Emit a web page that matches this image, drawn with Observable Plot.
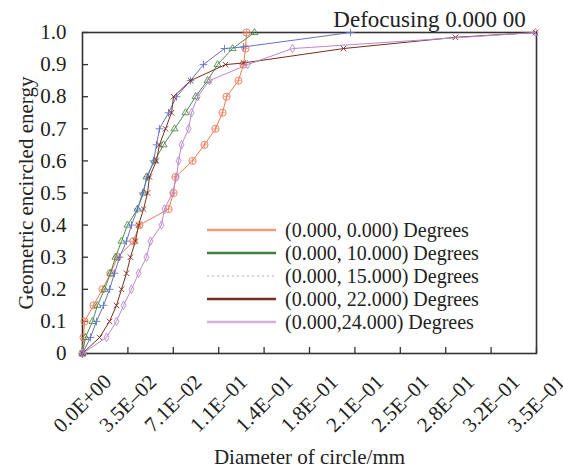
<!DOCTYPE html>
<html><head><meta charset="utf-8">
<script src="https://cdn.jsdelivr.net/npm/d3@7"></script>
<script src="https://cdn.jsdelivr.net/npm/@observablehq/plot@0.6"></script>
<style>
body{margin:0;background:#fff}
</style>
</head><body><div id="chart"></div>
<script>
// ---- data (diameter in mm, geometric encircled energy) ----
const seriesNames = ["(0.000, 0.000) Degrees", "(0.000, 10.000) Degrees", "(0.000, 15.000) Degrees", "(0.000, 22.000) Degrees", "(0.000,24.000) Degrees"];
const seriesColors = ["#f07a55", "#4e8c4e", "#6474c4", "#7a2e1e", "#bb88cc"];
const legendColors = ["#f29a7c", "#3f7f3f", "#c8c8ec", "#7a2e1e", "#d4b0dc"];
const seriesSymbols = ["circle", "triangle", "plus", "times", "diamond"];

const energy0 = [0, 0.05, 0.1, 0.15, 0.2, 0.25, 0.3, 0.35, 0.4, 0.45, 0.5, 0.55, 0.6, 0.65, 0.7, 0.75, 0.8, 0.85, 0.9, 0.95, 1.0];
const diam0   = [0, 0.0008, 0.0016, 0.0086, 0.0156, 0.0218, 0.0273, 0.0398, 0.0444, 0.0671, 0.0710, 0.0725, 0.0858, 0.0951, 0.1037, 0.1092, 0.1123, 0.1216, 0.1255, 0.1271, 0.1279];

const energy10 = [0, 0.05, 0.1, 0.15, 0.2, 0.25, 0.3, 0.35, 0.4, 0.45, 0.5, 0.55, 0.6, 0.65, 0.7, 0.75, 0.8, 0.85, 0.9, 0.95, 1.0];
const diam10   = [0, 0.0023, 0.0078, 0.0117, 0.0172, 0.0218, 0.0257, 0.0304, 0.0351, 0.0429, 0.0476, 0.0499, 0.0561, 0.0632, 0.0717, 0.0803, 0.0881, 0.0975, 0.1053, 0.1170, 0.1341];

const energy15 = [0, 0.05, 0.1, 0.15, 0.2, 0.25, 0.3, 0.35, 0.4, 0.45, 0.5, 0.55, 0.6, 0.65, 0.7, 0.75, 0.8, 0.85, 0.9, 0.95, 0.955, 1.0];
const diam15   = [0, 0.0062, 0.0109, 0.0164, 0.0211, 0.0250, 0.0289, 0.0343, 0.0382, 0.0429, 0.0468, 0.0507, 0.0554, 0.0577, 0.0600, 0.0671, 0.0733, 0.0842, 0.0943, 0.1107, 0.1255, 0.2090];

const energy22 = [0, 0.05, 0.1, 0.15, 0.2, 0.25, 0.3, 0.35, 0.4, 0.45, 0.5, 0.55, 0.6, 0.65, 0.7, 0.75, 0.8, 0.85, 0.9, 0.905, 0.95, 0.985, 1.0];
const diam22   = [0, 0.0133, 0.0211, 0.0265, 0.0304, 0.0343, 0.0374, 0.0413, 0.0437, 0.0476, 0.0507, 0.0522, 0.0577, 0.0600, 0.0647, 0.0694, 0.0710, 0.0842, 0.1115, 0.1255, 0.2035, 0.2908, 0.3532];

const energy24 = [0, 0.05, 0.1, 0.15, 0.2, 0.25, 0.3, 0.35, 0.4, 0.45, 0.5, 0.55, 0.6, 0.65, 0.7, 0.75, 0.8, 0.85, 0.9, 0.95, 1.0];
const diam24   = [0, 0.0187, 0.0265, 0.0320, 0.0382, 0.0437, 0.0499, 0.0530, 0.0616, 0.0639, 0.0702, 0.0733, 0.0749, 0.0772, 0.0827, 0.0850, 0.0897, 0.0990, 0.1287, 0.1637, 0.3532];

const xTickValues = [0, 0.0354, 0.0708, 0.1062, 0.1416, 0.177, 0.2124, 0.2478, 0.2832, 0.3186, 0.354];
const xTickLabels = ["0.0E+00", "3.5E\u201302", "7.1E\u201302", "1.1E\u201301", "1.4E\u201301", "1.8E\u201301", "2.1E\u201301", "2.5E\u201301", "2.8E\u201301", "3.2E\u201301", "3.5E\u201301"];
const yTickValues = [0, 0.1, 0.2, 0.3, 0.4, 0.5, 0.6, 0.7, 0.8, 0.9, 1.0];
const yTickLabels = ["0", "0.1", "0.2", "0.3", "0.4", "0.5", "0.6", "0.7", "0.8", "0.9", "1.0"];

const titleText = "Defocusing 0.000 00";
const xLabel = "Diameter of circle/mm";
const yLabel = "Geometric encircled energy";

const serifFont = "Liberation Serif";

// ---- build table ----
const diams = [diam0, diam10, diam15, diam22, diam24];
const energies = [energy0, energy10, energy15, energy22, energy24];
const series = seriesNames.map((name, k) => ({
  name, color: seriesColors[k], symbol: seriesSymbols[k],
  points: diams[k].map((d, i) => ({x: d, y: energies[k][i]}))
}));

const marks = [];
for (const s of series) {
  marks.push(Plot.line(s.points, {x: "x", y: "y", stroke: s.color, strokeWidth: 1}));
  marks.push(Plot.dot(s.points, {x: "x", y: "y", symbol: s.symbol, r: s.symbol === "circle" ? 3.6 : 2.6, stroke: s.color, strokeWidth: 0.9, fill: "none"}));
  if (s.symbol === "circle") marks.push(Plot.dot(s.points, {x: "x", y: "y", symbol: "plus", r: 2.2, stroke: s.color, strokeWidth: 0.7}));
}

const chart = Plot.plot({
  width: 563, height: 469,
  marginLeft: 82, marginRight: 27, marginTop: 32, marginBottom: 116,
  style: {fontFamily: serifFont, fontSize: "21px", background: "#fff", color: "#222", overflow: "visible"},
  x: {domain: [0, 0.354]},
  y: {domain: [0, 1]},
  marks: [
    Plot.axisY({ticks: yTickValues, tickSize: -6, tickFormat: () => "", label: null, stroke: "#333", strokeWidth: 1.3}),
    Plot.axisY({ticks: yTickValues, tickSize: 0, tickPadding: 16, tickFormat: (d, i) => yTickLabels[i], fontSize: 21, fill: "#222", fontFamily: serifFont,
      label: yLabel, labelAnchor: "center", labelArrow: "none", labelOffset: 64}),
    Plot.axisX({ticks: xTickValues, tickSize: -6, tickFormat: () => "", label: xLabel, labelAnchor: "center", labelArrow: "none", labelOffset: 110, stroke: "#333", strokeWidth: 1.3, fontSize: 21, fontFamily: serifFont}),
    Plot.text(xTickValues, {x: d => d, text: (d, i) => xTickLabels[i], frameAnchor: "bottom", dy: 50, rotate: -45, textAnchor: "middle", lineAnchor: "middle", fontSize: 21, fill: "#222", fontFamily: serifFont}),
    Plot.frame({stroke: "#333", strokeWidth: 1.6}),
    ...marks,
    Plot.text([titleText], {frameAnchor: "top", dx: 120, dy: -6, lineAnchor: "bottom", textAnchor: "middle", fontSize: 23, fill: "#222", fontFamily: serifFont})
  ]
});
document.getElementById("chart").appendChild(chart);

// ---- legend (inside plot area) ----
const svg = d3.select(chart);
const lg = svg.append("g").attr("font-family", serifFont).attr("font-size", 20).attr("fill", "#222").attr("text-anchor", "start");
const legX0 = 207, legX1 = 276, legTextX = 285, legY0 = 230, legGap = 23;
seriesNames.forEach((name, i) => {
  const y = legY0 + i * legGap;
  lg.append("line").attr("x1", legX0).attr("x2", legX1).attr("y1", y).attr("y2", y)
    .attr("stroke", legendColors[i]).attr("stroke-width", i === 2 ? 1.5 : 2.6)
    .attr("stroke-dasharray", i === 2 ? "2,3" : null);
  lg.append("text").attr("x", legTextX).attr("y", y).attr("dy", "0.35em").attr("text-anchor", "start").text(name);
});
</script>
</body></html>
